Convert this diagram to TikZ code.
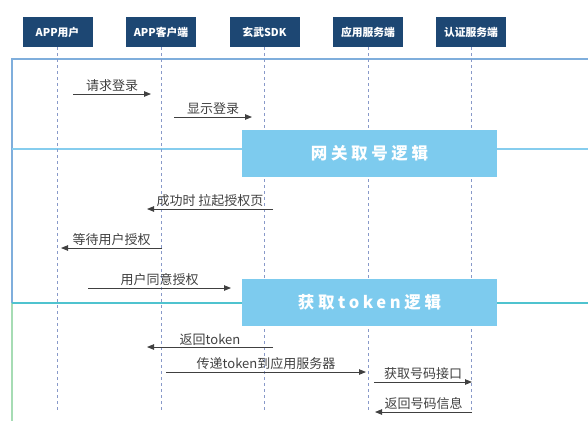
\documentclass[tikz,border=0pt]{standalone}
\usepackage{fontspec}
\setmainfont{Noto Sans CJK SC}
\newfontfamily\barfont[LetterSpace=22]{Noto Sans CJK SC}
\definecolor{hdrblue}{HTML}{1D4773}
\definecolor{frameblue}{HTML}{7FAEDC}
\definecolor{lineblue}{HTML}{86CDEE}
\definecolor{lineteal}{HTML}{4FC3CF}
\definecolor{framegreen}{HTML}{A6DCB4}
\definecolor{barblue}{HTML}{7DCBEE}
\definecolor{lifegray}{HTML}{8899C9}
\definecolor{msggray}{HTML}{404040}
\usetikzlibrary{arrows.meta}
\begin{document}
\begin{tikzpicture}[x=1pt, y=-1pt,
    hdr/.style={fill=hdrblue, text=white, font=\fontsize{10.8}{12}\selectfont\bfseries, minimum width=70pt, minimum height=30pt, inner sep=0pt, outer sep=0pt},
    life/.style={draw=lifegray, dashed, line width=0.6pt},
    msg/.style={draw=msggray, line width=0.9pt, -{Triangle[length=7pt, width=5.5pt]}},
    lbl/.style={text=msggray, font=\fontsize{13}{15}\selectfont, above, inner sep=1.5pt},
    bar/.style={fill=barblue, text=white, font=\barfont\fontsize{16.5}{18}\selectfont\bfseries, minimum width=255pt, minimum height=47pt, inner sep=0pt}]
    \useasboundingbox (0,0) rectangle (588,421);
    % frames
    \draw[frameblue, line width=1.2pt] (588,59) -- (12,59) -- (12,303);
    \draw[lineblue, line width=1.2pt] (12,149) -- (588,149);
    \draw[framegreen, line width=1.2pt] (12,303) -- (12,421);
    \draw[lineteal, line width=1.2pt] (12,303) -- (588,303);
    % heads
    \node[hdr] (user) at (57.5,32) {APP用户};
    \node[hdr] (client) at (161,32) {APP客户端};
    \node[hdr] (sdk) at (264.5,32) {玄武SDK};
    \node[hdr] (app) at (368,32) {应用服务端};
    \node[hdr] (auth) at (471,32) {认证服务端};
    % lifelines
    \coordinate (userEnd) at (57.5,410);
    \coordinate (clientEnd) at (161,410);
    \coordinate (sdkEnd) at (264.5,410);
    \coordinate (appEnd) at (368,410);
    \coordinate (authEnd) at (471,410);
    \draw[life] (user.south) -- (userEnd);
    \draw[life] (client.south) -- (clientEnd);
    \draw[life] (sdk.south) -- (sdkEnd);
    \draw[life] (app.south) -- (appEnd);
    \draw[life] (auth.south) -- (authEnd);
    % bars
    \node[bar] (gate) at (369.5,153.5) {网关取号逻辑};
    \node[bar] (token) at (369.5,302.5) {获取token逻辑};
    % messages
    \coordinate (m1a) at (73,94);   \coordinate (m1b) at (151,94);
    \coordinate (m2a) at (174,117); \coordinate (m2b) at (252,117);
    \coordinate (m3a) at (273,209); \coordinate (m3b) at (147,209);
    \coordinate (m4a) at (162,248); \coordinate (m4b) at (61,248);
    \coordinate (m5a) at (88,288);  \coordinate (m5b) at (231,288);
    \coordinate (m6a) at (273,347); \coordinate (m6b) at (147,347);
    \coordinate (m7a) at (166,372); \coordinate (m7b) at (366,372);
    \coordinate (m8a) at (374,382); \coordinate (m8b) at (472,382);
    \coordinate (m9a) at (472,412); \coordinate (m9b) at (375,412);
    \draw[msg] (m1a) -- node[lbl] {请求登录} (m1b);
    \draw[msg] (m2a) -- node[lbl] {显示登录} (m2b);
    \draw[msg] (m3a) -- node[lbl] {成功时 拉起授权页} (m3b);
    \draw[msg] (m4a) -- node[lbl] {等待用户授权} (m4b);
    \draw[msg] (m5a) -- node[lbl] {用户同意授权} (m5b);
    \draw[msg] (m6a) -- node[lbl] {返回token} (m6b);
    \draw[msg] (m7a) -- node[lbl] {传递token到应用服务器} (m7b);
    \draw[msg] (m8a) -- node[lbl] {获取号码接口} (m8b);
    \draw[msg] (m9a) -- node[lbl] {返回号码信息} (m9b);
\end{tikzpicture}
\end{document}
